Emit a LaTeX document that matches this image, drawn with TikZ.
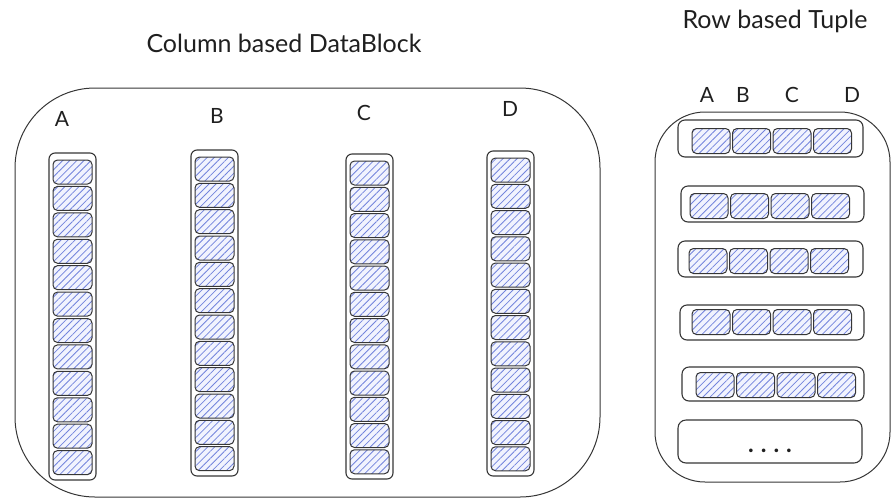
\documentclass[tikz,border=0pt]{standalone}
\usepackage{fontspec}
\setmainfont{Lato}
\usetikzlibrary{patterns.meta}

\definecolor{inkgray}{HTML}{363636}
\definecolor{hatchblue}{HTML}{7384DC}
\definecolor{cellfill}{HTML}{F1F3FE}

\tikzset{
  block/.style={draw=inkgray, line width=1pt, rounded corners=#1, inner sep=0pt},
  colbox/.style={draw=inkgray, line width=1.1pt, rounded corners=6pt, inner sep=0pt},
  cellbox/.style={draw=inkgray, line width=1pt, rounded corners=4.5pt, inner sep=0pt,
    preaction={fill=cellfill},
    pattern={Lines[angle=45,distance=5pt,line width=0.8pt]}, pattern color=hatchblue},
  title/.style={font=\fontsize{25}{30}\selectfont, text=black!88},
  lbl/.style={font=\fontsize{21}{25}\selectfont, text=black!88},
}

\begin{document}
\begin{tikzpicture}[x=1pt,y=-1pt]
\useasboundingbox (0,0) rectangle (891,499);

% column based block
\node[title] (coltitle) at (284,43) {Column based DataBlock};
\node[block=80pt, minimum width=585pt, minimum height=409pt] (colblock) at (307.5,292.5) {};
\foreach \c/\xl/\yt/\yb/\lx/\ly in {A/49/153/480/62/119, B/191/150/476/217/116,
    C/346/154/479/364/113, D/487/151/476/510/109} {
  \pgfmathsetmacro\hh{\yb-\yt}
  \pgfmathsetmacro\pitch{(\yb-\yt-10)/12}
  \node[lbl] (lab\c) at (\lx,\ly) {\c};
  \node[colbox, minimum width=47pt, minimum height=\hh pt] (col\c) at ({\xl+23.5},{(\yt+\yb)/2}) {};
  \foreach \i in {1,...,12}
    \node[cellbox, minimum width=39pt, minimum height=24pt] (cell\c\i)
      at ({\xl+23.5},{\yt+7+12+(\i-1)*\pitch}) {};
}

% row based tuple
\node[title] (rowtitle) at (775,21) {Row based Tuple};
\node[block=50pt, minimum width=235pt, minimum height=370pt] (rowblock) at (772.5,297) {};
\foreach \k/\lx in {A/707, B/743, C/792, D/852}
  \node[lbl] (top\k) at (\lx,95) {\k};
\foreach \r/\xl/\xr/\yt/\yb/\cx/\cy in {1/678/863/120/157/692/141, 2/681/864/186/222/690/206,
    3/678/863/241/277/689/261, 4/680/864/305/340/692/322, 5/682/864/367/401/696/385} {
  \pgfmathsetmacro\ww{\xr-\xl}
  \pgfmathsetmacro\hh{\yb-\yt}
  \node[colbox, rounded corners=7pt, minimum width=\ww pt, minimum height=\hh pt] (row\r)
    at ({(\xl+\xr)/2},{(\yt+\yb)/2}) {};
  \foreach \k [count=\j from 0] in {A,B,C,D}
    \node[cellbox, minimum width=38pt, minimum height=25pt] (tup\r\k)
      at ({\cx+19+\j*40.5},\cy) {};
}
\node[colbox, rounded corners=8pt, minimum width=184pt, minimum height=43pt] (row6) at (770,441.5) {};
\node[lbl, font=\fontsize{24}{28}\bfseries] (more) at (770,451) {.\hspace{7pt}.\hspace{7pt}.\hspace{7pt}.};
\end{tikzpicture}
\end{document}
